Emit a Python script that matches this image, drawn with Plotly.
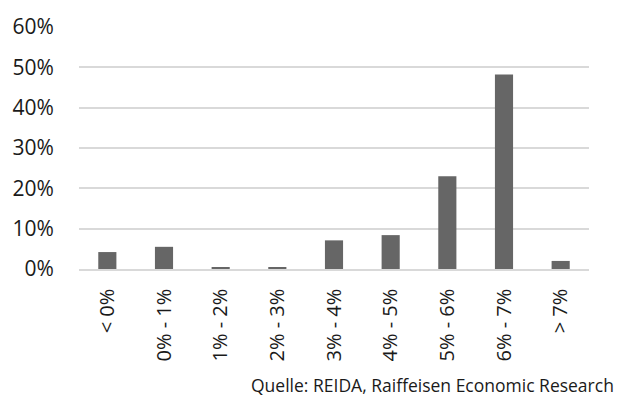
import plotly.graph_objects as go

categories = ["< 0%", "0% - 1%", "1% - 2%", "2% - 3%", "3% - 4%", "4% - 5%", "5% - 6%", "6% - 7%", "> 7%"]
values = [4.2, 5.5, 0.3, 0.5, 7.1, 8.4, 23.0, 48.2, 2.0]
y_ticks = [0, 10, 20, 30, 40, 50, 60]
y_labels = [f"{v}%" for v in y_ticks]
source = "Quelle: REIDA, Raiffeisen Economic Research"

fig = go.Figure(go.Bar(x=categories, y=values, marker=dict(color="#666666", line=dict(width=0))))

fig.update_layout(
    width=619, height=405,
    margin=dict(l=77, r=30, t=22, b=136),
    paper_bgcolor="white", plot_bgcolor="white",
    bargap=0.68,
    showlegend=False,
    font=dict(family="Open Sans", size=17, color="#1a1a1a"),
    xaxis=dict(tickangle=-90, showgrid=False, showline=True, linecolor="#d9d9d9", linewidth=1.5,
               ticks="outside", ticklen=10, tickcolor="rgba(0,0,0,0)", tickfont=dict(size=20)),
    yaxis=dict(range=[0, 60], tickvals=y_ticks, ticktext=y_labels, showgrid=True,
               gridcolor="#d9d9d9", gridwidth=1.5, zeroline=False, showline=False,
               ticks="outside", ticklen=20, tickcolor="rgba(0,0,0,0)", tickfont=dict(size=21)),
    annotations=[dict(text=source, xref="paper", yref="paper", x=1.053, y=-0.478,
                      xanchor="right", yanchor="middle", showarrow=False,
                      font=dict(size=17.5, color="#1a1a1a"))],
)

fig.write_html("out.html")
